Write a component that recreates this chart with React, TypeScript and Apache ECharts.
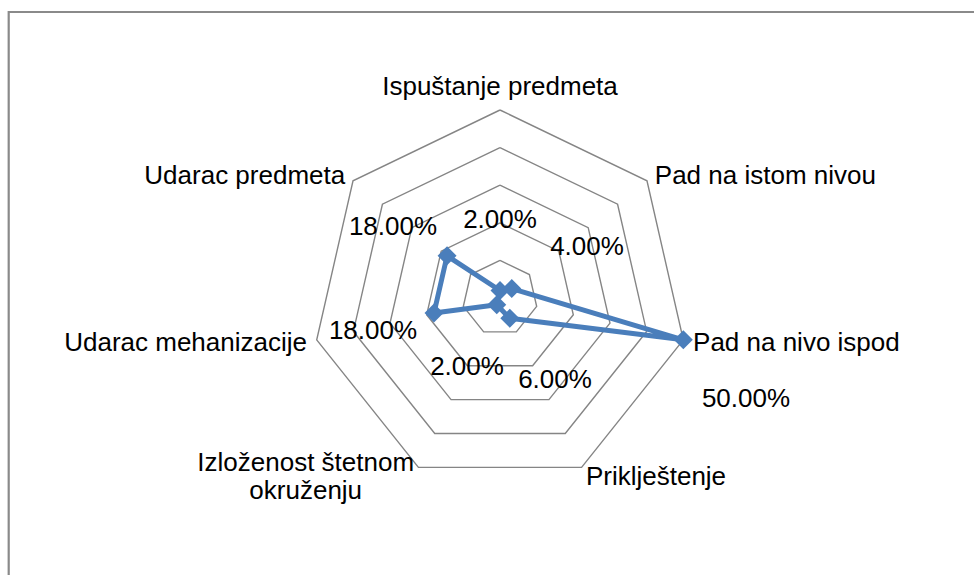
import React, { useEffect, useRef } from 'react';
import * as echarts from 'echarts';

const categories = [
  'Ispuštanje predmeta',
  'Pad na istom nivou',
  'Pad na nivo ispod',
  'Priklještenje',
  'Izloženost štetnom\nokruženju',
  'Udarac mehanizacije',
  'Udarac predmeta',
];
const values = [2, 4, 50, 6, 2, 18, 18];
const axisMax = 50;
const ringCount = 5;
// Excel-style data label anchor points (pixel), same order as categories
const labelPositions = [
  [500, 219],
  [587, 246],
  [746, 398],
  [555, 379],
  [467, 366],
  [373, 330],
  [393, 226],
];

const FONT = '"Liberation Sans", Arial, sans-serif';

export default function App() {
  const ref = useRef<HTMLDivElement>(null);
  useEffect(() => {
    if (!ref.current) return;
    const chart = echarts.init(ref.current, undefined, { renderer: 'svg' });
    // ECharts lays indicators counter-clockwise; Excel clockwise -> reorder
    const order = [0, ...categories.map((_, i) => i).slice(1).reverse()];
    const indicators = order.map((i) => ({ name: categories[i], max: axisMax, min: 0 }));
    const seriesValues = order.map((i) => values[i]);

    const labels = values.map((v, i) => ({
      type: 'text',
      x: labelPositions[i][0],
      y: labelPositions[i][1],
      silent: true,
      style: {
        text: v.toFixed(2) + '%',
        fontSize: 26,
        fontFamily: FONT,
        fill: '#000',
        align: 'center',
        verticalAlign: 'middle',
        textAlign: 'center',
        textVerticalAlign: 'middle',
      },
      z: 10,
    }));

    chart.setOption({
      animation: false,
      backgroundColor: '#fff',
      graphic: [
        {
          type: 'rect',
          shape: { x: 8.7, y: 12, width: 1200, height: 800 },
          style: { fill: 'none', stroke: '#8a8a8a', lineWidth: 2.2 },
          silent: true,
          z: 0,
        },
        ...labels,
      ],
      radar: {
        center: [500, 298],
        radius: 188,
        startAngle: 90,
        splitNumber: ringCount,
        shape: 'polygon',
        indicator: indicators,
        nameGap: 10,
        axisName: {
          color: '#000',
          fontSize: 26,
          fontFamily: FONT,
          formatter: (name: string) =>
            name
              .split('\n')
              .map((l) => `{c|${l}}`)
              .join('\n'),
          rich: {
            c: { fontSize: 26, fontFamily: FONT, color: '#000', align: 'center', lineHeight: 28 },
          },
        },
        axisLine: { show: false },
        axisTick: { show: false },
        axisLabel: { show: false },
        splitArea: { show: false },
        splitLine: { lineStyle: { color: '#858585', width: 1.4 } },
      },
      series: [
        {
          type: 'radar',
          symbol: 'diamond',
          symbolSize: 19,
          lineStyle: { color: '#4a7ebb', width: 5 },
          itemStyle: { color: '#4a7ebb' },
          data: [{ value: seriesValues, name: 'Vrste povreda' }],
        },
      ],
    });
    return () => chart.dispose();
  }, []);
  return (
    <div
      ref={ref}
      style={{ position: 'absolute', left: 0, top: 0, width: 974, height: 575 }}
    />
  );
}
